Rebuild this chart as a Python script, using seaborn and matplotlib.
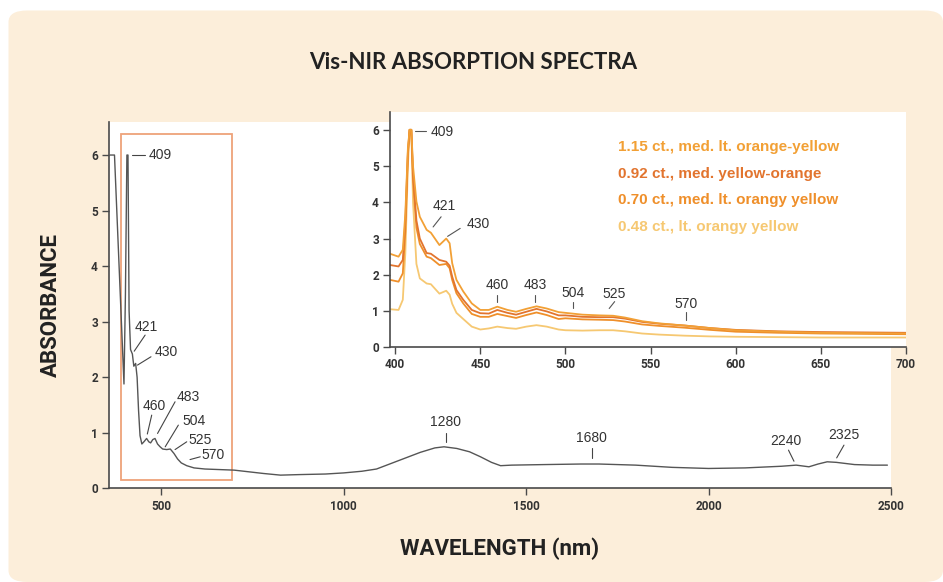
import matplotlib
matplotlib.use("Agg")
import matplotlib.pyplot as plt
import matplotlib.patches as mpatches
import numpy as np
import pandas as pd
import seaborn as sns

# full-range spectrum (nm, absorbance)
main_nm = [360, 372, 398, 402, 406, 409, 412, 416, 421, 425, 430, 434, 438, 442, 447,
           454, 460, 466, 471, 477, 483, 490, 497, 504, 515, 525, 535, 545, 555, 570,
           590, 620, 660, 700, 740, 780, 827, 880, 950, 1000, 1050, 1090, 1130, 1170,
           1210, 1250, 1275, 1310, 1345, 1375, 1405, 1430, 1460, 1550, 1650, 1700, 1800,
           1900, 2000, 2100, 2200, 2240, 2275, 2300, 2325, 2350, 2400, 2450, 2490]
main_abs = [6.0, 6.0, 1.88, 3.5, 6.0, 6.0, 3.2, 2.5, 2.42, 2.2, 2.25, 2.0, 1.4, 0.95, 0.8,
            0.85, 0.9, 0.84, 0.82, 0.88, 0.9, 0.8, 0.75, 0.71, 0.7, 0.71, 0.63, 0.53, 0.46, 0.41,
            0.37, 0.35, 0.34, 0.33, 0.30, 0.27, 0.24, 0.25, 0.26, 0.28, 0.31, 0.35, 0.45, 0.55,
            0.65, 0.73, 0.75, 0.72, 0.66, 0.57, 0.47, 0.41, 0.42, 0.43, 0.44, 0.44, 0.42,
            0.38, 0.36, 0.37, 0.40, 0.42, 0.39, 0.44, 0.48, 0.47, 0.43, 0.42, 0.42]

# visible-range detail, four stones
vis_nm = [397, 402, 404.5, 406, 407.5, 408.5, 409.5, 410.5, 412.5, 414.5, 418.5, 421, 426,
          430, 432, 433.5, 436, 440, 445, 450, 455, 460, 466, 471, 477, 483, 489, 496,
          500, 510, 520, 528, 535, 545, 555, 570, 585, 600, 625, 650, 675, 700]
ct115 = [2.58, 2.50, 2.69, 3.7, 5.5, 6.0, 6.0, 5.0, 4.02, 3.6, 3.24, 3.16, 2.82,
         3.0, 2.87, 2.32, 1.86, 1.54, 1.21, 1.03, 1.03, 1.12, 1.03, 0.98, 1.06, 1.13, 1.07, 0.97,
         0.95, 0.90, 0.88, 0.87, 0.82, 0.72, 0.66, 0.60, 0.53, 0.47, 0.43, 0.40, 0.39, 0.38]
ct092 = [2.27, 2.23, 2.41, 3.5, 5.4, 6.0, 6.0, 4.8, 3.5, 3.0, 2.6, 2.58, 2.41,
         2.36, 2.25, 1.95, 1.58, 1.31, 1.03, 0.94, 0.93, 1.03, 0.95, 0.90, 0.98, 1.06, 0.99, 0.88,
         0.88, 0.84, 0.83, 0.83, 0.79, 0.70, 0.65, 0.60, 0.53, 0.48, 0.44, 0.42, 0.41, 0.40]
ct070 = [1.86, 1.81, 2.04, 3.2, 5.3, 6.0, 6.0, 4.6, 3.3, 2.85, 2.5, 2.46, 2.27,
         2.30, 2.18, 1.86, 1.49, 1.21, 0.92, 0.84, 0.84, 0.92, 0.86, 0.81, 0.89, 0.96, 0.89, 0.78,
         0.80, 0.77, 0.76, 0.75, 0.71, 0.63, 0.59, 0.54, 0.48, 0.43, 0.40, 0.38, 0.37, 0.36]
ct048 = [1.05, 1.03, 1.31, 2.6, 5.0, 6.0, 6.0, 4.0, 2.3, 1.9, 1.76, 1.74, 1.48,
         1.56, 1.45, 1.2, 0.95, 0.78, 0.57, 0.49, 0.52, 0.57, 0.53, 0.51, 0.57, 0.61, 0.57, 0.49,
         0.47, 0.46, 0.47, 0.47, 0.44, 0.38, 0.35, 0.32, 0.30, 0.29, 0.28, 0.27, 0.27, 0.27]

stones = ["1.15 ct., med. lt. orange-yellow", "0.92 ct., med. yellow-orange",
          "0.70 ct., med. lt. orangy yellow", "0.48 ct., lt. orangy yellow"]
stone_colors = ["#F2A035", "#E2742E", "#EF8F2A", "#F6C872"]

# peak labels: (text, text x, text y, line x0, y0, x1, y1)
main_peaks = [("409", 465, 6.0, 420, 6.0, 456, 6.0),
              ("421", 459, 2.9, 456, 2.76, 426, 2.47),
              ("430", 514, 2.46, 472, 2.37, 435, 2.22),
              ("460", 481, 1.48, 474, 1.32, 462, 0.98),
              ("483", 575, 1.65, 538, 1.56, 490, 0.99),
              ("504", 590, 1.22, 547, 1.14, 511, 0.75),
              ("525", 607, 0.88, 570, 0.84, 538, 0.70),
              ("570", 642, 0.60, 607, 0.57, 579, 0.52),
              ("1280", 1280, 1.2, 1280, 0.99, 1280, 0.84),
              ("1680", 1680, 0.90, 1680, 0.72, 1680, 0.54),
              ("2240", 2211, 0.85, 2219, 0.69, 2234, 0.49),
              ("2325", 2371, 0.96, 2371, 0.78, 2351, 0.55)]
vis_peaks = [("409", 421, 5.94, 411.7, 5.96, 418, 5.96),
             ("421", 428.7, 3.89, 427, 3.6, 422.3, 3.32),
             ("430", 448.8, 3.41, 438.2, 3.28, 430.8, 3.06),
             ("460", 460, 1.72, 460, 1.44, 460, 1.26),
             ("483", 482, 1.72, 482, 1.44, 482, 1.26),
             ("504", 504.7, 1.50, 504.7, 1.26, 504.7, 1.07),
             ("525", 528.5, 1.47, 528.9, 1.26, 525.7, 1.07),
             ("570", 570.9, 1.19, 570.9, 0.98, 570.9, 0.75)]

sns.set_theme(style="ticks")
plt.rcParams["font.family"] = ["Liberation Sans", "DejaVu Sans"]
narrow = ["Liberation Sans Narrow", "Roboto", "DejaVu Sans"]
cream = "#FCEEDA"
axis_col = "#4a4a4a"

fig = plt.figure(figsize=(9.43, 5.82), dpi=100)
fig.patch.set_facecolor("white")
fig.patches.append(mpatches.FancyBboxPatch((0.009, 0.0), 0.991, 0.982, boxstyle="round,pad=0,rounding_size=0.02",
                                           transform=fig.transFigure, facecolor=cream, edgecolor="none", zorder=-10))

ax = fig.add_axes([0.1156, 0.1607, 0.8293, 0.6302])
ax.set_facecolor("white")
sns.lineplot(x=main_nm, y=main_abs, ax=ax, color="#555555", lw=1.0, sort=False)
ax.set_xlim(357, 2500)
ax.set_ylim(0, 6.6)
ax.set_xticks([500, 1000, 1500, 2000, 2500])
ax.set_yticks(range(7))
ax.add_patch(mpatches.Rectangle((390, 0.15), 305, 6.23, fill=False, edgecolor="#EEA27A", lw=1.3))
for t, tx, ty, x0, y0, x1, y1 in main_peaks:
    ax.plot([x0, x1], [y0, y1], color="#444444", lw=0.8)
    ha = "left" if t == "409" else "center"
    ax.text(tx, ty, t, ha=ha, va="center", fontsize=10, color="#333333")
ax.set_xlabel("WAVELENGTH (nm)", fontsize=16, fontweight="bold", family=narrow, color="#222222", labelpad=18)
ax.set_ylabel("ABSORBANCE", fontsize=16, fontweight="bold", family=narrow, color="#222222", labelpad=21)

ins = fig.add_axes([0.4136, 0.4033, 0.5472, 0.4048])
ins.set_facecolor("white")
df = pd.DataFrame({"nm": vis_nm * 4,
                   "abs": ct115 + ct092 + ct070 + ct048,
                   "stone": sum([[s] * len(vis_nm) for s in stones], [])})
sns.lineplot(data=df, x="nm", y="abs", hue="stone", hue_order=stones[::-1],
             palette=dict(zip(stones, stone_colors)), lw=1.3, ax=ins, legend=False)
ins.set_xlim(397, 700)
ins.set_ylim(0, 6.5)
ins.set_xticks(range(400, 701, 50))
ins.set_yticks(range(7))
ins.set_xlabel("")
ins.set_ylabel("")
for t, tx, ty, x0, y0, x1, y1 in vis_peaks:
    ins.plot([x0, x1], [y0, y1], color="#555555", lw=0.8)
    ha = "left" if t == "409" else "center"
    ins.text(tx, ty, t, ha=ha, va="center", fontsize=10, color="#333333")
for s, c, ly in zip(stones, stone_colors, [5.52, 4.79, 4.07, 3.32]):
    ins.text(530.6, ly, s, ha="left", va="center", fontsize=11, fontweight="bold", color=c)

for a in (ax, ins):
    sns.despine(ax=a)
    for sp in ("left", "bottom"):
        a.spines[sp].set_color(axis_col)
        a.spines[sp].set_linewidth(1.2)
    a.tick_params(direction="out", length=5, width=1, color=axis_col, pad=3)
    for lab in a.get_xticklabels() + a.get_yticklabels():
        lab.set_family(narrow)
        lab.set_fontweight("bold")
        lab.set_fontsize(8.5)
        lab.set_color("#333333")

fig.text(0.502, 0.893, "Vis-NIR ABSORPTION SPECTRA", ha="center", va="center", fontsize=16,
         fontweight="bold", family=["Lato", "DejaVu Sans"], color="#222222")

fig.savefig("out.png", dpi=100, facecolor=fig.get_facecolor())
